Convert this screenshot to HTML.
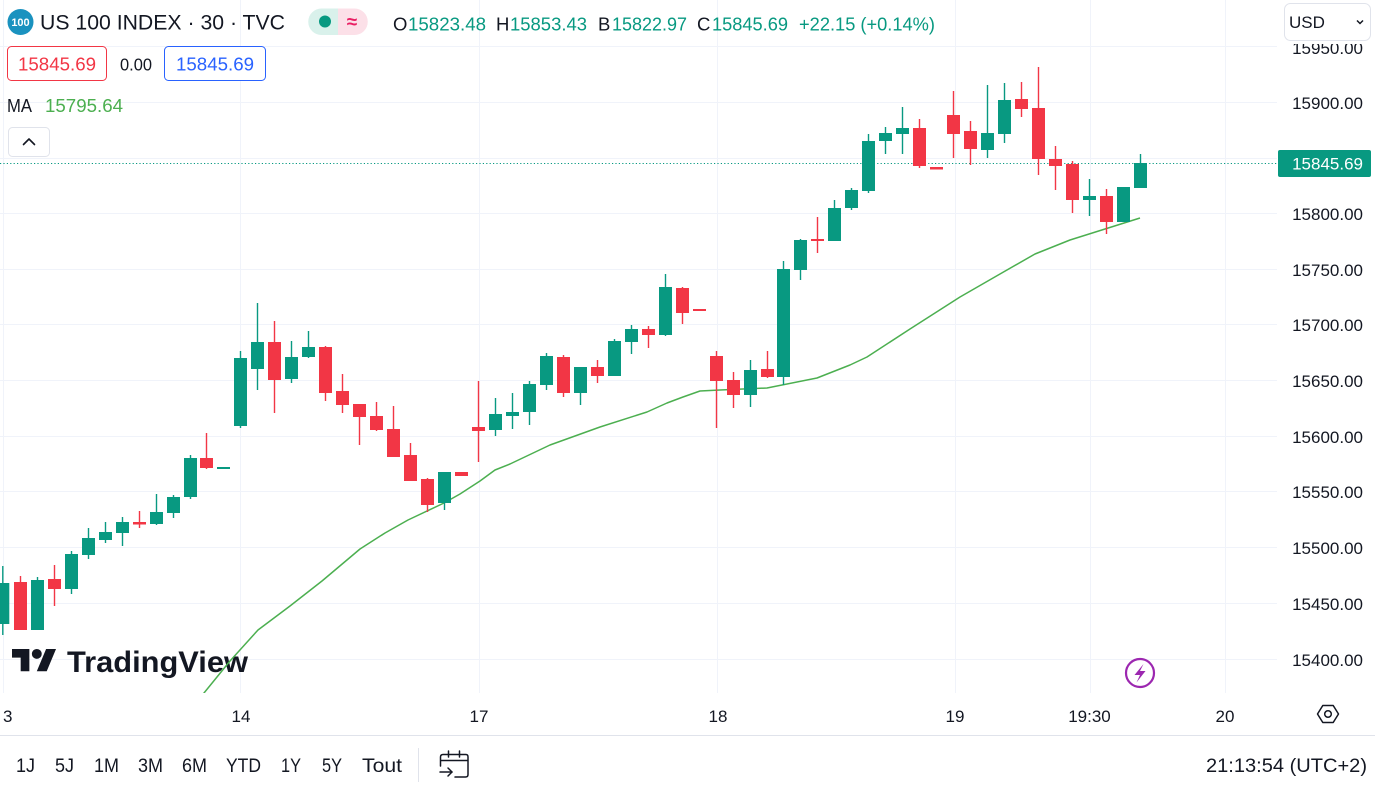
<!DOCTYPE html>
<html>
<head>
<meta charset="utf-8">
<style>
html,body{margin:0;padding:0;background:#fff;}
svg{display:block;}
text{font-family:"Liberation Sans",sans-serif;}
</style>
</head>
<body>
<svg width="1375" height="788" viewBox="0 0 1375 788" xmlns="http://www.w3.org/2000/svg">
<rect x="0" y="0" width="1375" height="788" fill="#ffffff"/>
<defs>
<clipPath id="pane"><rect x="0" y="0" width="1277" height="693"/></clipPath>
</defs>

<!-- grid -->
<g stroke="#f0f3fa" stroke-width="1">
<line x1="0" x2="1277" y1="46.5" y2="46.5"/>
<line x1="0" x2="1277" y1="102.5" y2="102.5"/>
<line x1="0" x2="1277" y1="158.5" y2="158.5"/>
<line x1="0" x2="1277" y1="213.5" y2="213.5"/>
<line x1="0" x2="1277" y1="269.5" y2="269.5"/>
<line x1="0" x2="1277" y1="324.5" y2="324.5"/>
<line x1="0" x2="1277" y1="380.5" y2="380.5"/>
<line x1="0" x2="1277" y1="436.5" y2="436.5"/>
<line x1="0" x2="1277" y1="491.5" y2="491.5"/>
<line x1="0" x2="1277" y1="547.5" y2="547.5"/>
<line x1="0" x2="1277" y1="603.5" y2="603.5"/>
<line x1="0" x2="1277" y1="659.5" y2="659.5"/>
<line x1="3.5" x2="3.5" y1="0" y2="693"/>
<line x1="240.5" x2="240.5" y1="0" y2="693"/>
<line x1="479.5" x2="479.5" y1="0" y2="693"/>
<line x1="717.5" x2="717.5" y1="0" y2="693"/>
<line x1="955.5" x2="955.5" y1="0" y2="693"/>
<line x1="1090.5" x2="1090.5" y1="0" y2="693"/>
<line x1="1225.5" x2="1225.5" y1="0" y2="693"/>
</g>

<!-- watermark -->
<g fill="#131722">
<g transform="translate(12,644) scale(1.24)">
<path d="M14 22H7V11H0V4h14v18zM28 22h-8l7.5-18h8L28 22z"/><circle cx="20" cy="8" r="4"/>
</g>
<text x="67" y="672" font-size="30" font-weight="bold" textLength="181" lengthAdjust="spacingAndGlyphs">TradingView</text>
</g>

<g clip-path="url(#pane)">
<!-- current price dotted line -->
<line x1="0" x2="1277" y1="163.5" y2="163.5" stroke="#089981" stroke-width="1" stroke-dasharray="1.2,2.2"/>

<!-- MA -->
<polyline fill="none" stroke="#4caf50" stroke-width="1.5" stroke-linejoin="round" points="200,698 204,693 230,661 258,630 290,606 322,581 341,565 360,549 385,533 408,520 444,503 460,494 480,481 495,470 510,464 550,445 600,427 647,412 667,403 683,397 700,391 720,390 767,388 817,378 850,365 867,357 910,329 960,297 1000,274 1035,254 1070,240 1140,218"/>

<!-- green candles -->
<g fill="#089981">
<rect x="2.1" y="566" width="1.4" height="69"/><rect x="-3.7" y="583" width="13" height="41"/>
<rect x="36.8" y="577" width="1.4" height="53"/><rect x="31" y="580" width="13" height="50"/>
<rect x="70.8" y="551" width="1.4" height="43"/><rect x="65" y="554" width="13" height="35"/>
<rect x="87.8" y="528" width="1.4" height="31"/><rect x="82" y="538" width="13" height="17"/>
<rect x="104.8" y="522" width="1.4" height="21"/><rect x="99" y="532" width="13" height="8"/>
<rect x="121.8" y="517" width="1.4" height="29"/><rect x="116" y="522" width="13" height="11"/>
<rect x="155.8" y="494" width="1.4" height="31"/><rect x="150" y="512" width="13" height="12"/>
<rect x="172.8" y="495" width="1.4" height="23"/><rect x="167" y="497" width="13" height="16"/>
<rect x="189.8" y="455" width="1.4" height="44"/><rect x="184" y="458" width="13" height="39"/>
<rect x="217" y="467" width="13" height="2"/>
<rect x="239.8" y="351" width="1.4" height="77"/><rect x="234" y="358" width="13" height="68"/>
<rect x="256.8" y="303" width="1.4" height="87"/><rect x="251" y="342" width="13" height="27"/>
<rect x="290.8" y="341" width="1.4" height="42"/><rect x="285" y="357" width="13" height="22"/>
<rect x="307.8" y="331" width="1.4" height="27"/><rect x="302" y="347" width="13" height="10"/>
<rect x="443.8" y="472" width="1.4" height="38"/><rect x="438" y="472" width="13" height="31"/>
<rect x="494.8" y="398" width="1.4" height="38"/><rect x="489" y="414" width="13" height="16"/>
<rect x="511.8" y="393" width="1.4" height="36"/><rect x="506" y="412" width="13" height="4"/>
<rect x="528.8" y="381" width="1.4" height="44"/><rect x="523" y="384" width="13" height="28"/>
<rect x="545.8" y="353" width="1.4" height="37"/><rect x="540" y="356" width="13" height="29"/>
<rect x="579.8" y="367" width="1.4" height="38"/><rect x="574" y="367" width="13" height="26"/>
<rect x="613.8" y="339" width="1.4" height="37"/><rect x="608" y="341" width="13" height="35"/>
<rect x="630.8" y="325" width="1.4" height="29"/><rect x="625" y="329" width="13" height="13"/>
<rect x="664.8" y="274" width="1.4" height="62"/><rect x="659" y="287" width="13" height="48"/>
<rect x="749.8" y="360" width="1.4" height="47"/><rect x="744" y="370" width="13" height="25"/>
<rect x="782.8" y="261" width="1.4" height="124"/><rect x="777" y="269" width="13" height="108"/>
<rect x="799.8" y="239" width="1.4" height="41"/><rect x="794" y="240" width="13" height="30"/>
<rect x="833.8" y="200" width="1.4" height="41"/><rect x="828" y="208" width="13" height="33"/>
<rect x="850.8" y="188" width="1.4" height="22"/><rect x="845" y="190" width="13" height="18"/>
<rect x="867.8" y="134" width="1.4" height="59"/><rect x="862" y="141" width="13" height="50"/>
<rect x="884.8" y="127" width="1.4" height="27"/><rect x="879" y="133" width="13" height="8"/>
<rect x="901.8" y="107" width="1.4" height="47"/><rect x="896" y="128" width="13" height="6"/>
<rect x="986.8" y="85" width="1.4" height="73"/><rect x="981" y="133" width="13" height="17"/>
<rect x="1003.8" y="83" width="1.4" height="60"/><rect x="998" y="100" width="13" height="34"/>
<rect x="1088.8" y="179" width="1.4" height="37"/><rect x="1083" y="196" width="13" height="4"/>
<rect x="1122.8" y="187" width="1.4" height="35"/><rect x="1117" y="187" width="13" height="35"/>
<rect x="1139.8" y="154" width="1.4" height="34"/><rect x="1134" y="163" width="13" height="25"/>
</g>

<!-- red candles -->
<g fill="#f23645">
<rect x="19.8" y="576" width="1.4" height="54"/><rect x="14" y="582" width="13" height="48"/>
<rect x="53.8" y="565" width="1.4" height="41"/><rect x="48" y="579" width="13" height="10"/>
<rect x="138.8" y="511" width="1.4" height="17"/><rect x="133" y="522" width="13" height="2.5"/>
<rect x="205.8" y="433" width="1.4" height="36"/><rect x="200" y="458" width="13" height="10"/>
<rect x="273.8" y="321" width="1.4" height="92"/><rect x="268" y="342" width="13" height="38"/>
<rect x="324.8" y="346" width="1.4" height="55"/><rect x="319" y="347" width="13" height="46"/>
<rect x="341.8" y="374" width="1.4" height="39"/><rect x="336" y="391" width="13" height="14"/>
<rect x="358.8" y="404" width="1.4" height="41"/><rect x="353" y="404" width="13" height="13"/>
<rect x="375.8" y="402" width="1.4" height="29"/><rect x="370" y="416" width="13" height="14"/>
<rect x="392.8" y="406" width="1.4" height="51"/><rect x="387" y="429" width="13" height="28"/>
<rect x="409.8" y="443" width="1.4" height="38"/><rect x="404" y="455" width="13" height="26"/>
<rect x="426.8" y="478" width="1.4" height="34"/><rect x="421" y="479" width="13" height="26"/>
<rect x="455" y="472" width="13" height="4"/>
<rect x="477.8" y="381" width="1.4" height="81"/><rect x="472" y="427" width="13" height="4"/>
<rect x="562.8" y="355" width="1.4" height="42"/><rect x="557" y="357" width="13" height="36"/>
<rect x="596.8" y="360" width="1.4" height="23"/><rect x="591" y="367" width="13" height="9"/>
<rect x="647.8" y="326" width="1.4" height="22"/><rect x="642" y="329" width="13" height="6"/>
<rect x="681.8" y="287" width="1.4" height="37"/><rect x="676" y="288" width="13" height="25"/>
<rect x="693" y="309" width="13" height="2"/>
<rect x="715.8" y="351" width="1.4" height="77"/><rect x="710" y="356" width="13" height="25"/>
<rect x="732.8" y="372" width="1.4" height="36"/><rect x="727" y="380" width="13" height="15"/>
<rect x="766.8" y="351" width="1.4" height="27"/><rect x="761" y="369" width="13" height="8"/>
<rect x="816.8" y="217" width="1.4" height="36"/><rect x="811" y="239" width="13" height="2"/>
<rect x="918.8" y="119" width="1.4" height="49"/><rect x="913" y="128" width="13" height="38"/>
<rect x="930" y="167" width="13" height="2.5"/>
<rect x="952.8" y="91" width="1.4" height="67"/><rect x="947" y="115" width="13" height="19"/>
<rect x="969.8" y="121" width="1.4" height="44"/><rect x="964" y="131" width="13" height="18"/>
<rect x="1020.8" y="82" width="1.4" height="35"/><rect x="1015" y="99" width="13" height="10"/>
<rect x="1037.8" y="67" width="1.4" height="108"/><rect x="1032" y="108" width="13" height="51"/>
<rect x="1054.8" y="146" width="1.4" height="44"/><rect x="1049" y="159" width="13" height="7"/>
<rect x="1071.8" y="161" width="1.4" height="52"/><rect x="1066" y="164" width="13" height="36"/>
<rect x="1105.8" y="189" width="1.4" height="45"/><rect x="1100" y="196" width="13" height="26"/>
</g>
</g>

<!-- lightning icon -->
<circle cx="1140" cy="673" r="14" fill="#ffffff" stroke="#9c27b0" stroke-width="2.2"/>
<path d="M1143.5 664 L1134.5 675 L1140 675 L1136.5 682.5 L1145.5 671 L1140 671 Z" fill="#9c27b0"/>

<!-- price axis labels -->
<g font-size="17" fill="#131722" text-anchor="end">
<text x="1363" y="54">15950.00</text>
<text x="1363" y="109">15900.00</text>
<text x="1363" y="220">15800.00</text>
<text x="1363" y="276">15750.00</text>
<text x="1363" y="331">15700.00</text>
<text x="1363" y="387">15650.00</text>
<text x="1363" y="443">15600.00</text>
<text x="1363" y="498">15550.00</text>
<text x="1363" y="554">15500.00</text>
<text x="1363" y="610">15450.00</text>
<text x="1363" y="666">15400.00</text>
</g>
<!-- USD button -->
<rect x="1278" y="0" width="97" height="44" fill="#ffffff"/>
<rect x="1284.5" y="3.5" width="86" height="37" rx="6" fill="#ffffff" stroke="#e0e3eb" stroke-width="1"/>
<text x="1289" y="28" font-size="17" fill="#131722">USD</text>
<polyline points="1357,20.5 1360,23.5 1363,20.5" fill="none" stroke="#131722" stroke-width="1.5"/>

<!-- current price label -->
<rect x="1278" y="150" width="93" height="27" rx="2" fill="#089981"/>
<text x="1363" y="169.5" font-size="17" fill="#ffffff" text-anchor="end">15845.69</text>

<!-- time axis -->
<g font-size="17" fill="#131722" text-anchor="middle">
<text x="3" y="722" text-anchor="start">3</text>
<text x="241" y="722">14</text>
<text x="479" y="722">17</text>
<text x="718" y="722">18</text>
<text x="955" y="722">19</text>
<text x="1089.5" y="722">19:30</text>
<text x="1225" y="722">20</text>
</g>
<!-- settings hexagon -->
<polygon points="1317.5,714 1322.8,705.5 1333.2,705.5 1338.5,714 1333.2,722.5 1322.8,722.5" fill="none" stroke="#131722" stroke-width="1.5" stroke-linejoin="round"/>
<circle cx="1328" cy="714" r="3.3" fill="none" stroke="#131722" stroke-width="1.5"/>

<!-- bottom toolbar -->
<line x1="0" x2="1375" y1="735.5" y2="735.5" stroke="#e0e3eb" stroke-width="1"/>
<g font-size="19" fill="#131722">
<text x="16" y="772" textLength="19" lengthAdjust="spacingAndGlyphs">1J</text>
<text x="55" y="772" textLength="19" lengthAdjust="spacingAndGlyphs">5J</text>
<text x="94" y="772" textLength="25" lengthAdjust="spacingAndGlyphs">1M</text>
<text x="138" y="772" textLength="25" lengthAdjust="spacingAndGlyphs">3M</text>
<text x="182" y="772" textLength="25" lengthAdjust="spacingAndGlyphs">6M</text>
<text x="226" y="772" textLength="35" lengthAdjust="spacingAndGlyphs">YTD</text>
<text x="281" y="772" textLength="20" lengthAdjust="spacingAndGlyphs">1Y</text>
<text x="322" y="772" textLength="20" lengthAdjust="spacingAndGlyphs">5Y</text>
<text x="362" y="772" textLength="40" lengthAdjust="spacingAndGlyphs">Tout</text>
<text x="1206" y="772" textLength="161" lengthAdjust="spacingAndGlyphs">21:13:54 (UTC+2)</text>
</g>
<line x1="418.5" x2="418.5" y1="748" y2="782" stroke="#e0e3eb" stroke-width="1"/>
<!-- calendar icon -->
<g fill="none" stroke="#131722" stroke-width="1.5" stroke-linecap="round" stroke-linejoin="round">
<path d="M440.5 766 V757 Q440.5 754.5 443 754.5 H466 Q468 754.5 468 757 V774.5 Q468 777 465.5 777 H455"/>
<line x1="448.5" y1="751" x2="448.5" y2="757"/>
<line x1="459.5" y1="751" x2="459.5" y2="757"/>
<line x1="441" y1="760.5" x2="467.5" y2="760.5"/>
<line x1="440" y1="772" x2="452" y2="772"/>
<polyline points="448,768 452,772 448,776"/>
</g>

<!-- header -->
<circle cx="20.5" cy="22" r="13" fill="#1a92bf"/>
<text x="20.5" y="26" font-size="11" font-weight="bold" fill="#ffffff" text-anchor="middle">100</text>
<text x="40" y="29.5" font-size="21.5" fill="#131722" textLength="245" lengthAdjust="spacingAndGlyphs">US 100 INDEX · 30 · TVC</text>

<!-- status pill -->
<path d="M321.5 8.5 H338 V35 H321.5 A13.25 13.25 0 0 1 321.5 8.5 Z" fill="#d9f1eb"/>
<path d="M338 8.5 H354.5 A13.25 13.25 0 0 1 354.5 35 H338 Z" fill="#fce0e8"/>
<circle cx="325" cy="21.5" r="6" fill="#089981"/>
<text x="352" y="28" font-size="19" font-weight="bold" fill="#e91e63" text-anchor="middle">≈</text>

<g font-size="18.5">
<text x="393" y="30.7" fill="#131722">O</text>
<text x="408" y="30.7" fill="#089981" textLength="78" lengthAdjust="spacingAndGlyphs">15823.48</text>
<text x="496" y="30.7" fill="#131722">H</text>
<text x="510" y="30.7" fill="#089981" textLength="77" lengthAdjust="spacingAndGlyphs">15853.43</text>
<text x="598" y="30.7" fill="#131722">B</text>
<text x="612" y="30.7" fill="#089981" textLength="75" lengthAdjust="spacingAndGlyphs">15822.97</text>
<text x="697" y="30.7" fill="#131722">C</text>
<text x="712" y="30.7" fill="#089981" textLength="76" lengthAdjust="spacingAndGlyphs">15845.69</text>
<text x="799" y="30.7" fill="#089981" textLength="136" lengthAdjust="spacingAndGlyphs">+22.15 (+0.14%)</text>
</g>

<!-- row 2 -->
<rect x="7.5" y="46.5" width="99" height="34" rx="4" fill="#ffffff" stroke="#f23645" stroke-width="1"/>
<text x="18" y="70.5" font-size="18.5" fill="#f23645" textLength="78" lengthAdjust="spacingAndGlyphs">15845.69</text>
<text x="120" y="70.5" font-size="17.5" fill="#131722" textLength="32" lengthAdjust="spacingAndGlyphs">0.00</text>
<rect x="164.5" y="46.5" width="101" height="34" rx="4" fill="#ffffff" stroke="#2962ff" stroke-width="1"/>
<text x="176" y="70.5" font-size="18.5" fill="#2962ff" textLength="78" lengthAdjust="spacingAndGlyphs">15845.69</text>

<!-- row 3 -->
<text x="7" y="112" font-size="18.5" fill="#131722" textLength="25" lengthAdjust="spacingAndGlyphs">MA</text>
<text x="45" y="112" font-size="18.5" fill="#4caf50" textLength="78" lengthAdjust="spacingAndGlyphs">15795.64</text>

<!-- collapse button -->
<rect x="8.5" y="127.5" width="41" height="29" rx="4" fill="#ffffff" stroke="#e0e3eb" stroke-width="1"/>
<polyline points="23.5,144.5 29,139 34.5,144.5" fill="none" stroke="#131722" stroke-width="1.6" stroke-linecap="round" stroke-linejoin="round"/>
</svg>
</body>
</html>
